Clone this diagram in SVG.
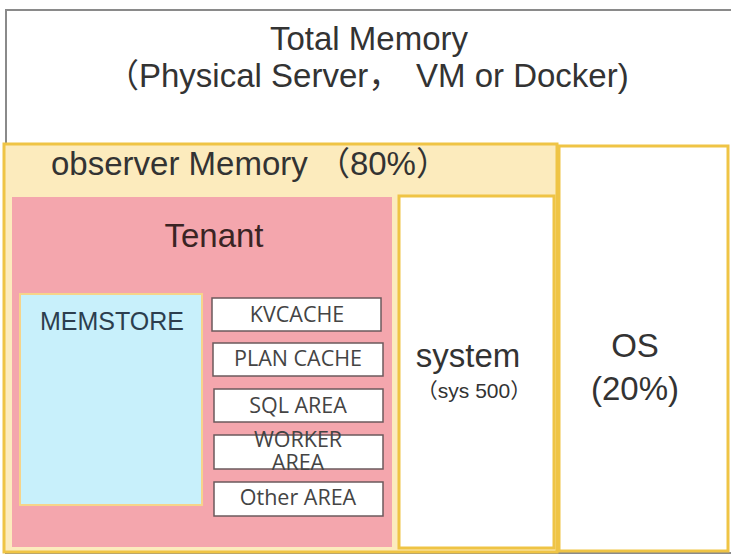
<svg xmlns="http://www.w3.org/2000/svg" width="731" height="560" viewBox="0 0 731 560">
<style>
text{font-family:"Liberation Sans",Arial,"Noto Sans CJK SC",sans-serif;fill:#333;text-anchor:middle}
text.s{text-anchor:start}
.gold{stroke:#efc445;stroke-width:3}
.item rect{fill:#fff;stroke:#6b5a5c;stroke-width:1.5}
.item text{font-family:"Open Sans","Noto Sans",sans-serif;font-size:21.5px;fill:#444}
</style>
<rect width="731" height="560" fill="#fff"/>
<g id="total">
<rect x="6" y="10" width="730" height="543" fill="#fff" stroke="#8a8a8a" stroke-width="2"/>
<text x="369" y="50" font-size="33">Total Memory</text>
<text class="s" x="106" y="87" font-size="33">（Physical Server，</text>
<text class="s" x="416" y="87" font-size="33">VM or Docker)</text>
</g>
<g id="observer">
<rect x="4" y="144" width="553" height="408" fill="#fcebbd" class="gold"/>
<text class="s" x="51" y="175" font-size="33">observer Memory （80%）</text>
</g>
<g id="os">
<rect x="559" y="146" width="169" height="405" fill="#fff" class="gold"/>
<text x="635" y="357" font-size="33">OS</text>
<text x="635" y="400" font-size="33">(20%)</text>
</g>
<g id="tenant">
<rect x="12" y="197" width="380" height="350" fill="#f4a6ad"/>
<text x="214" y="247" font-size="33" style="fill:#3a2424">Tenant</text>
</g>
<g id="memstore">
<rect x="20" y="294" width="182" height="211" fill="#c8f0fb" stroke="#f6d48a" stroke-width="2"/>
<text x="112" y="330" font-size="25" style="fill:#2c3e4e">MEMSTORE</text>
</g>
<g id="kvcache" class="item">
<rect x="212" y="298" width="169" height="33"/>
<text x="297" y="322">KVCACHE</text>
</g>
<g id="plancache" class="item">
<rect x="213" y="343" width="170" height="33"/>
<text x="298" y="366">PLAN CACHE</text>
</g>
<g id="sqlarea" class="item">
<rect x="214" y="389" width="169" height="33"/>
<text x="298" y="413">SQL AREA</text>
</g>
<g id="workerarea" class="item">
<rect x="214" y="435" width="169" height="34"/>
<text x="298" y="447">WORKER<tspan x="298" dy="23">AREA</tspan></text>
</g>
<g id="otherarea" class="item">
<rect x="214" y="482" width="169" height="34"/>
<text x="298" y="505">Other AREA</text>
</g>
<g id="system">
<rect x="399" y="196" width="155" height="352" fill="#fff" class="gold"/>
<text x="468" y="367" font-size="33">system</text>
<text x="474" y="398" font-size="21">（sys 500）</text>
</g>
<g id="connectors"/>
</svg>
